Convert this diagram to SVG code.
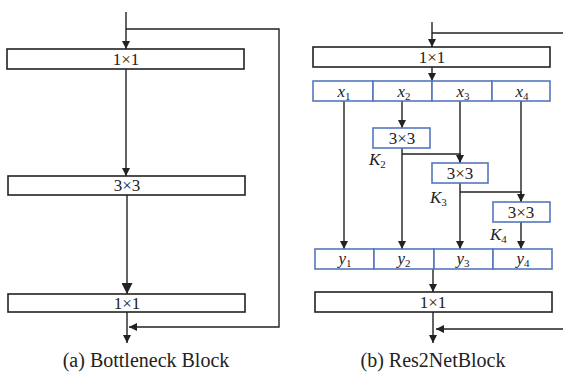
<svg xmlns="http://www.w3.org/2000/svg" width="563" height="374" viewBox="0 0 563 374" font-family="'Liberation Serif', 'DejaVu Serif', serif">
<defs>
<marker id="ah" viewBox="0 0 10 10" refX="10" refY="5" markerWidth="8" markerHeight="8" markerUnits="userSpaceOnUse" orient="auto">
<path d="M0,0 L10,5 L0,10 z" fill="#222"/>
</marker>
<marker id="ahb" viewBox="0 0 10 10" refX="10" refY="5" markerWidth="11" markerHeight="11" markerUnits="userSpaceOnUse" orient="auto">
<path d="M0,0 L10,5 L0,10 z" fill="#222"/>
</marker>
</defs>
<style>
text{fill:#222}
.box{fill:#fff;stroke:#222;stroke-width:1.6}
.bbox{fill:#fff;stroke:#5677bd;stroke-width:1.6}
.t{font-size:17px;text-anchor:middle}
.v{font-size:17px;font-style:italic;text-anchor:middle}
.k{font-size:17px;font-style:italic}
.s{font-size:11px;font-style:normal}
.cap{font-size:20px;text-anchor:middle}
.c{fill:none;stroke:#222;stroke-width:1.4}
</style>
<rect width="563" height="374" fill="#fff"/>
<g id="connectors">
<line class="c" x1="126" y1="12" x2="126" y2="49" marker-end="url(#ah)"/>
<polyline class="c" points="126,29 279,29 279,327 129,327" marker-end="url(#ah)"/>
<line class="c" x1="126" y1="69" x2="126" y2="176" marker-end="url(#ah)"/>
<line class="c" x1="127" y1="195" x2="127" y2="294" marker-end="url(#ahb)"/>
<line class="c" x1="127" y1="312" x2="127" y2="343" marker-end="url(#ah)"/>
<line class="c" x1="432" y1="22" x2="432" y2="47" marker-end="url(#ah)"/>
<line class="c" x1="432" y1="33" x2="563" y2="33"/>
<line class="c" x1="432" y1="67" x2="432" y2="81" marker-end="url(#ah)"/>
<line class="c" x1="344" y1="101" x2="344" y2="249" marker-end="url(#ah)"/>
<line class="c" x1="402" y1="101" x2="402" y2="128" marker-end="url(#ah)"/>
<line class="c" x1="402" y1="148" x2="402" y2="249" marker-end="url(#ah)"/>
<polyline class="c" points="402,154 460,154 460,163" marker-end="url(#ah)"/>
<line class="c" x1="460" y1="101" x2="460" y2="163"/>
<line class="c" x1="460" y1="183" x2="460" y2="249" marker-end="url(#ah)"/>
<polyline class="c" points="460,192 521,192 521,202" marker-end="url(#ah)"/>
<line class="c" x1="521" y1="101" x2="521" y2="202"/>
<line class="c" x1="521" y1="222" x2="521" y2="249" marker-end="url(#ah)"/>
<line class="c" x1="433" y1="269" x2="433" y2="292" marker-end="url(#ah)"/>
<line class="c" x1="433" y1="312" x2="433" y2="343" marker-end="url(#ah)"/>
<line class="c" x1="563" y1="329" x2="436" y2="329" marker-end="url(#ah)"/>
</g>
<g id="left-1x1-top"><rect class="box" x="7" y="49" width="237" height="20"/><text class="t" x="126" y="65">1×1</text></g>
<g id="left-3x3"><rect class="box" x="8" y="176" width="237" height="19"/><text class="t" x="127" y="191">3×3</text></g>
<g id="left-1x1-bottom"><rect class="box" x="8" y="294" width="237" height="18"/><text class="t" x="127" y="309">1×1</text></g>
<text class="cap" x="146" y="367">(a) Bottleneck Block</text>
<g id="right-1x1-top"><rect class="box" x="313" y="47" width="237" height="20"/><text class="t" x="432" y="63">1×1</text></g>
<g id="x-row">
<rect class="bbox" x="313" y="81" width="60" height="20"/>
<rect class="bbox" x="373" y="81" width="59" height="20"/>
<rect class="bbox" x="432" y="81" width="60" height="20"/>
<rect class="bbox" x="492" y="81" width="58" height="20"/>
<text class="v" x="344" y="97">x<tspan class="s" dy="3">1</tspan></text>
<text class="v" x="404" y="97">x<tspan class="s" dy="3">2</tspan></text>
<text class="v" x="463" y="97">x<tspan class="s" dy="3">3</tspan></text>
<text class="v" x="522" y="97">x<tspan class="s" dy="3">4</tspan></text>
</g>
<g id="k2"><rect class="bbox" x="373" y="128" width="57" height="20"/><text class="t" x="402" y="144">3×3</text><text class="k" x="369" y="165">K<tspan class="s" dy="3">2</tspan></text></g>
<g id="k3"><rect class="bbox" x="432" y="163" width="56" height="20"/><text class="t" x="460" y="179">3×3</text><text class="k" x="430" y="203">K<tspan class="s" dy="3">3</tspan></text></g>
<g id="k4"><rect class="bbox" x="493" y="202" width="57" height="20"/><text class="t" x="521" y="218">3×3</text><text class="k" x="490" y="240">K<tspan class="s" dy="3">4</tspan></text></g>
<g id="y-row">
<rect class="bbox" x="315" y="249" width="59" height="20"/>
<rect class="bbox" x="374" y="249" width="60" height="20"/>
<rect class="bbox" x="434" y="249" width="59" height="20"/>
<rect class="bbox" x="493" y="249" width="59" height="20"/>
<text class="v" x="345" y="264">y<tspan class="s" dy="3">1</tspan></text>
<text class="v" x="404" y="264">y<tspan class="s" dy="3">2</tspan></text>
<text class="v" x="463" y="264">y<tspan class="s" dy="3">3</tspan></text>
<text class="v" x="523" y="264">y<tspan class="s" dy="3">4</tspan></text>
</g>
<g id="right-1x1-bottom"><rect class="box" x="315" y="292" width="237" height="20"/><text class="t" x="433" y="308">1×1</text></g>
<text class="cap" x="433" y="367">(b) Res2NetBlock</text>
</svg>
